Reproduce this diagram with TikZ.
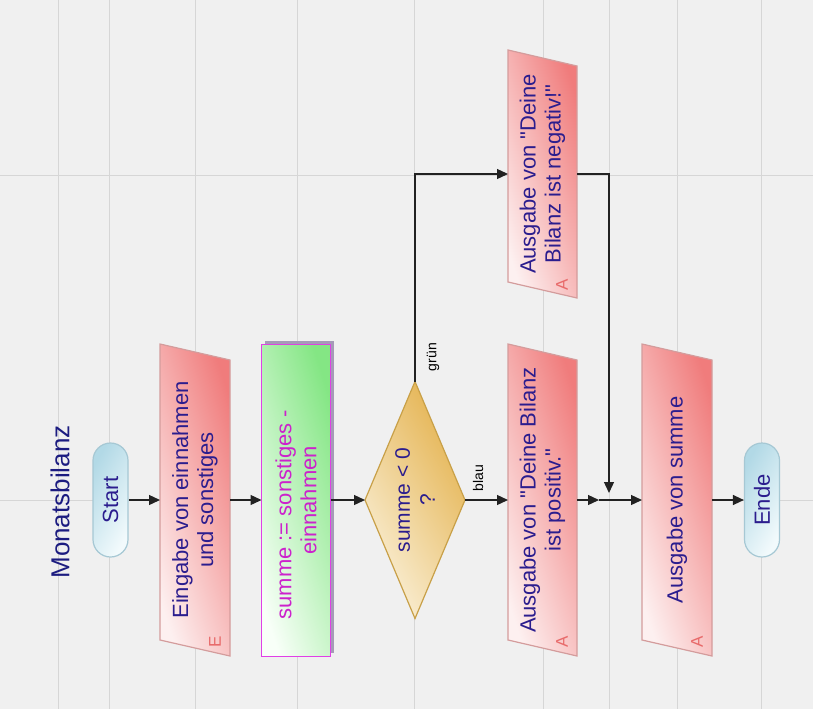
\documentclass[tikz,border=0pt]{standalone}
\usepackage{fontspec}
\setmainfont{Liberation Sans}
\newfontfamily\plainsans{Liberation Sans}
\usetikzlibrary{arrows.meta}

\definecolor{bg}{HTML}{F0F0F0}
\definecolor{gridc}{HTML}{D6D6D6}
\definecolor{txt}{HTML}{2B1D8E}
\definecolor{titlec}{HTML}{1C1C80}
\definecolor{pinkD}{HTML}{F07C7C}
\definecolor{pinkL}{HTML}{FDF0F0}
\definecolor{pinkB}{HTML}{D49C9C}
\definecolor{pinkM}{HTML}{E86A6A}
\definecolor{grnD}{HTML}{84E684}
\definecolor{grnL}{HTML}{F8FFF8}
\definecolor{mag}{HTML}{E040E6}
\definecolor{magT}{HTML}{CC22CC}
\definecolor{shad}{HTML}{A69AB8}
\definecolor{goldD}{HTML}{E4B24E}
\definecolor{goldL}{HTML}{FAF0D8}
\definecolor{goldB}{HTML}{C8A048}
\definecolor{bluD}{HTML}{B2D9E6}
\definecolor{bluL}{HTML}{F2FAFC}
\definecolor{bluB}{HTML}{A6C8D4}
\definecolor{lnc}{HTML}{222222}

% straight double quote, set without the TeX quote mapping
\newcommand\dq{{\plainsans\symbol{34}}}

% parallelogram (input/output) drawn over an invisible hull node
\newcommand\ioshape[1]{%
  \draw[iobox] (#1.north west) -- ([yshift=-16pt]#1.north east)
    -- (#1.south east) -- ([yshift=16pt]#1.south west) -- cycle;}

\tikzset{
  gridline/.style={draw=gridc, line width=0.9pt},
  hull/.style={draw=none, inner sep=0pt, outer sep=0pt, minimum width=70pt},
  iobox/.style={draw=pinkB, line width=1.2pt, top color=pinkD, bottom color=pinkL, shading angle=-72},
  procbox/.style={draw=mag, line width=1.3pt, top color=grnD, bottom color=grnL, shading angle=-72},
  decbox/.style={draw=goldB, line width=1.2pt, top color=goldD, bottom color=goldL, shading angle=-60},
  termbox/.style={draw=bluB, line width=1.2pt, rounded corners=17.5pt, top color=bluD, bottom color=bluL,
    shading angle=60, minimum width=35pt, minimum height=114pt, inner sep=0pt},
  lbl/.style={rotate=90, text=txt, font=\fontsize{22pt}{25pt}\selectfont, align=center, inner sep=0pt},
  ioletter/.style={rotate=90, text=pinkM, font=\fontsize{17pt}{17pt}\selectfont, inner sep=0pt},
  edgelbl/.style={rotate=90, text=black, font=\fontsize{14pt}{14pt}\selectfont, inner sep=0pt},
  flow/.style={draw=lnc, line width=1.3pt, -{Triangle[length=11pt,width=10pt]}},
}

\begin{document}
\begin{tikzpicture}[x=1pt, y=-1pt]
  \useasboundingbox (0,0) rectangle (813,709);
  \fill[bg] (0,0) rectangle (813,709);

  % background grid
  \foreach \gx in {58,109,195,297,414,543,609,677,761}
    \draw[gridline] (\gx,0) -- (\gx,709);
  \foreach \gy in {175,500}
    \draw[gridline] (0,\gy) -- (813,\gy);

  % title
  \node[rotate=90, text=titlec, font=\fontsize{26pt}{26pt}\selectfont, inner sep=0pt] (title) at (60,502) {Monatsbilanz};

  % start terminal
  \node[termbox] (start) at (110.5,500) {};
  \node[lbl] (starttext) at (start.center) {Start};

  % input
  \node[hull, minimum height=312pt] (ein) at (195,500) {};
  \ioshape{ein}
  \node[lbl] (eintext) at (ein.center) {Eingabe von einnahmen\\und sonstiges};
  \node[ioletter] (einmark) at ([xshift=-15pt,yshift=14pt]ein.south east) {E};

  % assignment
  \node[hull, minimum width=69pt, minimum height=312pt] (proc) at (296,500.5) {};
  \fill[shad] ([xshift=3pt,yshift=4pt]proc.south west) rectangle ([xshift=3pt,yshift=4pt]proc.north east);
  \draw[procbox] (proc.south west) rectangle (proc.north east);
  \node[lbl, text=magT] (proctext) at (proc.center) {summe := sonstiges -\hspace*{28pt}\\einnahmen};

  % decision
  \node[hull, minimum width=100pt, minimum height=237pt] (dec) at (415,500) {};
  \draw[decbox] (dec.west) -- (dec.north) -- (dec.east) -- (dec.south) -- cycle;
  \node[lbl, font=\fontsize{21pt}{25pt}\selectfont] (dectext) at (dec.center) {summe < 0\\?};
  \node[edgelbl] (gruen) at (433,357) {grün};
  \node[edgelbl] (blau) at (478,478) {blau};

  % outputs
  \node[hull, minimum width=69pt, minimum height=248pt] (neg) at (542.5,174) {};
  \ioshape{neg}
  \node[lbl] (negtext) at (neg.center) {Ausgabe von \dq Deine\\Bilanz ist negativ!\dq};
  \node[ioletter] (negmark) at ([xshift=-15pt,yshift=13pt]neg.south east) {A};

  \node[hull, minimum width=69pt, minimum height=312pt] (pos) at (542.5,500) {};
  \ioshape{pos}
  \node[lbl] (postext) at (pos.center) {Ausgabe von \dq Deine Bilanz\\ist positiv.\dq};
  \node[ioletter] (posmark) at ([xshift=-15pt,yshift=14pt]pos.south east) {A};

  \node[hull, minimum height=312pt] (sum) at (677,500) {};
  \ioshape{sum}
  \node[lbl] (sumtext) at (sum.center) {Ausgabe von summe};
  \node[ioletter] (summark) at ([xshift=-15pt,yshift=14pt]sum.south east) {A};

  % end terminal
  \node[termbox] (ende) at (762,500) {};
  \node[lbl] (endetext) at (ende.center) {Ende};

  % connectors
  \coordinate (join) at (609,500);
  \coordinate (prejoin) at (599,500);
  \draw[flow] (start.east) -- (ein.west);
  \draw[flow] (ein.east) -- (ein.east -| proc.west);
  \draw[flow] (proc.east |- dec.west) -- (dec.west);
  \draw[flow] (dec.east) -- (pos.west);
  \draw[flow] (dec.north) |- (neg.west);
  \draw[flow, shorten >=7pt] (neg.east) -| (join);
  \draw[flow] (pos.east) -- (prejoin);
  \draw[flow] (prejoin) -- (sum.west);
  \draw[flow] (sum.east) -- (ende.west);
\end{tikzpicture}
\end{document}
